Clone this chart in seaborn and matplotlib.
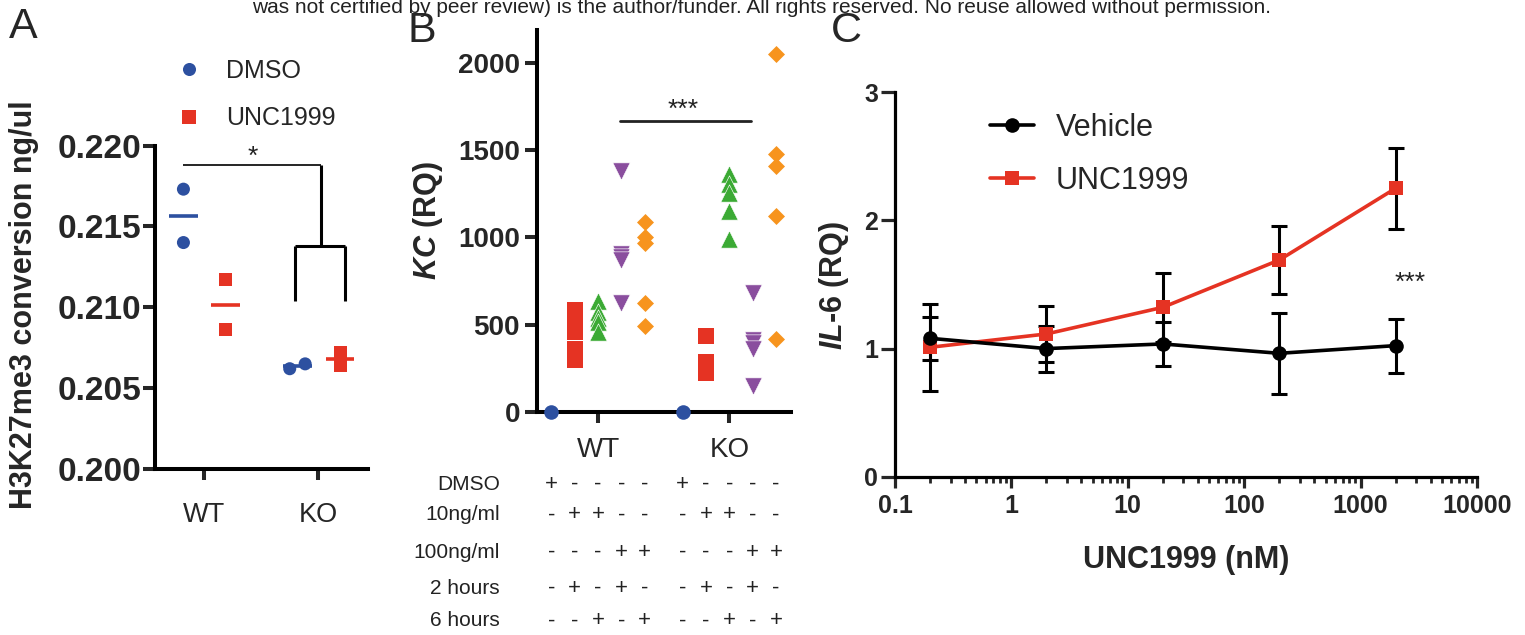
import numpy as np
import pandas as pd
import matplotlib
matplotlib.use("Agg")
import matplotlib.pyplot as plt
import matplotlib.transforms as mtransforms
from matplotlib.lines import Line2D
from matplotlib.ticker import FixedLocator, FuncFormatter, LogLocator, NullFormatter
import seaborn as sns

# ---------------- data ----------------
header_text = ("was not certified by peer review) is the author/funder. "
               "All rights reserved. No reuse allowed without permission.")

# Panel A
a_groups = ["WT", "KO"]
a_treatments = ["DMSO", "UNC1999"]
a_wt_dmso = [0.2173, 0.2140]
a_wt_unc = [0.2117, 0.2086]
a_ko_dmso = [0.2062, 0.2065]
a_ko_unc = [0.2072, 0.2064]
a_yticks = [0.200, 0.205, 0.210, 0.215, 0.220]
a_ylabel = "H3K27me3 conversion ng/ul"

# Panel B
b_groups = ["WT", "KO"]
b_conditions = ["DMSO", "10ng/ml 2h", "10ng/ml 6h", "100ng/ml 2h", "100ng/ml 6h"]
b_wt_dmso = [0]
b_wt_10_2h = [586, 524, 460, 362, 299]
b_wt_10_6h = [635, 570, 540, 515, 458]
b_wt_100_2h = [1383, 908, 890, 872, 624]
b_wt_100_6h = [1091, 1001, 967, 622, 492]
b_ko_dmso = [0]
b_ko_10_2h = [436, 432, 287, 255, 222]
b_ko_10_6h = [1365, 1305, 1255, 1150, 990]
b_ko_100_2h = [680, 413, 395, 360, 150]
b_ko_100_6h = [2052, 1480, 1411, 1125, 417]
b_yticks = [0, 500, 1000, 1500, 2000]
b_sig_y = 1668

table_rows = ["DMSO", "10ng/ml", "100ng/ml", "2 hours", "6 hours"]
table_signs = [
    ["+", "-", "-", "-", "-", "+", "-", "-", "-", "-"],
    ["-", "+", "+", "-", "-", "-", "+", "+", "-", "-"],
    ["-", "-", "-", "+", "+", "-", "-", "-", "+", "+"],
    ["-", "+", "-", "+", "-", "-", "+", "-", "+", "-"],
    ["-", "-", "+", "-", "+", "-", "-", "+", "-", "+"],
]

# Panel C
c_conc = [0.2, 2, 20, 200, 2000]
c_vehicle = [1.08, 1.00, 1.036, 0.963, 1.023]
c_vehicle_err = [0.17, 0.18, 0.172, 0.317, 0.211]
c_unc = [1.01, 1.114, 1.322, 1.691, 2.251]
c_unc_err = [0.34, 0.22, 0.27, 0.265, 0.315]
c_xticks = [0.1, 1, 10, 100, 1000, 10000]
c_yticks = [0, 1, 2, 3]

# ---------------- style ----------------
sns.set_style("ticks")
plt.rcParams["font.family"] = ["Liberation Sans", "DejaVu Sans"]
plt.rcParams["mathtext.fontset"] = "custom"
plt.rcParams["mathtext.it"] = "Liberation Sans:italic:bold"
plt.rcParams["mathtext.rm"] = "Liberation Sans:bold"
plt.rcParams["mathtext.bf"] = "Liberation Sans:bold"

BLUE = "#2D50A0"
RED = "#E53323"
GREEN = "#3BAA34"
PURPLE = "#8A4E9E"
ORANGE = "#F7941E"

W, H = 1525, 635
fig = plt.figure(figsize=(W / 100, H / 100), dpi=100)


def rect(l, t, r, b):
    return [l / W, 1 - b / H, (r - l) / W, (b - t) / H]


def fx(px):
    return px / W


def fy(py):
    return 1 - py / H


axA = fig.add_axes(rect(155, 145.5, 368.3, 469))
axB = fig.add_axes(rect(536.7, 30, 790.7, 411.7))
axC = fig.add_axes(rect(895, 92.3, 1477, 476.7))

for ax, lw in ((axA, 2.9), (axB, 2.9), (axC, 2.3)):
    for s in ("top", "right"):
        ax.spines[s].set_visible(False)
    for s in ("left", "bottom"):
        ax.spines[s].set_linewidth(lw)
        ax.spines[s].set_color("black")
        ax.spines[s].set_capstyle("projecting")
    ax.set_facecolor("none")

# ---------------- Panel A ----------------
a_vals = {("WT", "DMSO"): a_wt_dmso, ("WT", "UNC1999"): a_wt_unc,
          ("KO", "DMSO"): a_ko_dmso, ("KO", "UNC1999"): a_ko_unc}
a_offsets = {("WT", "DMSO"): [-0.18, -0.18], ("WT", "UNC1999"): [0.19, 0.19],
             ("KO", "DMSO"): [-0.25, -0.115], ("KO", "UNC1999"): [0.19, 0.19]}
rows = []
for gi, g in enumerate(a_groups):
    for t in a_treatments:
        for v, off in zip(a_vals[(g, t)], a_offsets[(g, t)]):
            rows.append({"group": g, "treatment": t, "value": v, "x": gi + off})
dfA = pd.DataFrame(rows)

a_pal = {"DMSO": BLUE, "UNC1999": RED}
a_mk = {"DMSO": "o", "UNC1999": "s"}
# mean lines
for (g, t), grp in dfA.groupby(["group", "treatment"]):
    xc = grp["x"].mean()
    axA.hlines(grp["value"].mean(), xc - 0.125, xc + 0.125, colors=a_pal[t], lw=2.6, zorder=2)
sns.scatterplot(data=dfA, x="x", y="value", hue="treatment", style="treatment",
                palette=a_pal, markers=a_mk, s=88, linewidth=0, ax=axA,
                legend=False, zorder=3, clip_on=False)
axA.set_xlim(-0.4287, 1.4374)
axA.set_ylim(0.200, 0.220)
axA.yaxis.set_major_locator(FixedLocator(a_yticks))
axA.yaxis.set_major_formatter(FuncFormatter(lambda v, p: f"{v:.3f}"))
axA.set_xticks([0, 1])
axA.set_xticklabels(a_groups)
axA.set_xlabel("")
axA.set_ylabel("")
axA.tick_params(axis="y", length=8.6, width=2.9, pad=1, labelsize=24)
axA.tick_params(axis="x", length=8, width=2.9, pad=15.5, labelsize=19.5)
for lab in axA.get_yticklabels():
    lab.set_fontweight("bold")

# bracket
bk = dict(color="black", clip_on=False, solid_capstyle="butt")
axA.plot([-0.18, 1.02], [0.2188, 0.2188], lw=1.2, **bk)
axA.plot([1.02, 1.02], [0.2188, 0.2138], lw=2.2, **bk)
axA.plot([0.80, 1.23], [0.2138, 0.2138], lw=2.2, **bk)
axA.plot([0.80, 0.80], [0.2138, 0.2104], lw=2.2, **bk)
axA.plot([1.23, 1.23], [0.2138, 0.2104], lw=2.2, **bk)
axA.text(0.43, 0.21885, "*", ha="center", va="baseline", fontsize=19, color="#222222")

a_handles = [Line2D([], [], ls="none", marker=a_mk[t], color=a_pal[t], markersize=9.4,
                    markeredgewidth=0) for t in a_treatments]
axA.legend(a_handles, a_treatments, loc="upper left", bbox_to_anchor=(fx(176.5), fy(59)),
           bbox_transform=fig.transFigure, frameon=False, fontsize=18, handlelength=1.0,
           handletextpad=1.0, labelspacing=0.93, borderpad=0, borderaxespad=0)

fig.text(fx(24), fy(305), a_ylabel, rotation=90, ha="center", va="center",
         fontsize=22, fontweight="bold")
fig.text(fx(23), fy(27), "A", ha="center", va="center", fontsize=31)

# ---------------- Panel B ----------------
b_vals = {
    "WT": [b_wt_dmso, b_wt_10_2h, b_wt_10_6h, b_wt_100_2h, b_wt_100_6h],
    "KO": [b_ko_dmso, b_ko_10_2h, b_ko_10_6h, b_ko_100_2h, b_ko_100_6h],
}
b_center = {"WT": 0.0, "KO": 5.63}
b_slot = [-2, -1, 0, 1, 2]
b_style = {
    "DMSO": dict(marker="o", color=BLUE, s=110, linewidth=0),
    "10ng/ml 2h": dict(marker="s", color=RED, s=117, linewidth=0),
    "10ng/ml 6h": dict(marker="^", color=GREEN, s=155, linewidth=0.45, edgecolor="white"),
    "100ng/ml 2h": dict(marker="v", color=PURPLE, s=155, linewidth=0.45, edgecolor="white"),
    "100ng/ml 6h": dict(marker="D", color=ORANGE, s=75, linewidth=0),
}
rows = []
for g in b_groups:
    for ci, c in enumerate(b_conditions):
        for v in b_vals[g][ci]:
            rows.append({"group": g, "condition": c, "value": v,
                         "x": b_center[g] + b_slot[ci]})
dfB = pd.DataFrame(rows)
for c in b_conditions:
    sub = dfB[dfB["condition"] == c]
    sns.scatterplot(data=sub, x="x", y="value", ax=axB, legend=False, zorder=3,
                    clip_on=False, **b_style[c])
axB.set_xlim(-2.63, 8.26)
axB.set_ylim(0, 2191)
axB.yaxis.set_major_locator(FixedLocator(b_yticks))
axB.set_xticks([b_center[g] for g in b_groups])
axB.set_xticklabels(b_groups)
axB.set_xlabel("")
axB.set_ylabel("")
axB.tick_params(axis="y", length=8.4, width=2.9, pad=3.6, labelsize=20)
axB.tick_params(axis="x", length=8, width=2.9, pad=10, labelsize=20)
for lab in axB.get_yticklabels():
    lab.set_fontweight("bold")
axB.plot([0.94, 6.55], [b_sig_y, b_sig_y], color="#222222", lw=2.0, clip_on=False)
axB.text(3.64, b_sig_y + 25, "***", ha="center", va="baseline", fontsize=19, color="#222222")
fig.text(fx(428), fy(220), r"$\mathit{KC}$ (RQ)", rotation=90, ha="center", va="center",
         fontsize=22, fontweight="bold")
fig.text(fx(422), fy(31), "B", ha="center", va="center", fontsize=31)

# table under panel B
blend = mtransforms.blended_transform_factory(axB.transData, fig.transFigure)
row_y = [484, 515, 552, 588, 621]
cols_x = [b_center[g] + s for g in b_groups for s in b_slot]
for ri, lab in enumerate(table_rows):
    fig.text(fx(500), fy(row_y[ri]), lab, ha="right", va="center", fontsize=15, color="#222222")
    for xi, sgn in zip(cols_x, table_signs[ri]):
        axB.text(xi, fy(row_y[ri]), sgn, transform=blend, ha="center", va="center",
                 fontsize=16, color="#222222", clip_on=False)

# ---------------- Panel C ----------------
axC.set_xscale("log")
axC.errorbar(c_conc, c_unc, yerr=c_unc_err, fmt="none", ecolor="black", elinewidth=2.2,
             capsize=6, capthick=2.2, zorder=2)
axC.errorbar(c_conc, c_vehicle, yerr=c_vehicle_err, fmt="none", ecolor="black",
             elinewidth=2.2, capsize=6, capthick=2.2, zorder=2)
sns.lineplot(x=c_conc, y=c_unc, ax=axC, color=RED, marker="s", markersize=10.5,
             markeredgewidth=0, lw=2.6, zorder=3)
sns.lineplot(x=c_conc, y=c_vehicle, ax=axC, color="black", marker="o", markersize=10.5,
             markeredgewidth=0, lw=2.6, zorder=4)
axC.set_xlim(0.1, 10000)
axC.set_ylim(0, 3)
axC.xaxis.set_major_locator(FixedLocator(c_xticks))
axC.xaxis.set_major_formatter(FuncFormatter(lambda v, p: f"{v:g}"))
axC.xaxis.set_minor_locator(LogLocator(base=10, subs=np.arange(2, 10), numticks=20))
axC.xaxis.set_minor_formatter(NullFormatter())
axC.yaxis.set_major_locator(FixedLocator(c_yticks))
axC.tick_params(axis="y", length=10, width=2.3, pad=2, labelsize=18)
axC.tick_params(axis="x", which="major", length=7.7, width=2.3, pad=4.5, labelsize=18)
axC.tick_params(axis="x", which="minor", length=4.3, width=2.0)
for lab in axC.get_xticklabels() + axC.get_yticklabels():
    lab.set_fontweight("bold")
axC.set_xlabel("")
axC.set_ylabel("")
axC.text(2655, 1.462, "***", ha="center", va="baseline", fontsize=19, color="#222222")

c_handles = [Line2D([], [], color="black", marker="o", markersize=10.5, lw=2.6, markeredgewidth=0),
             Line2D([], [], color=RED, marker="s", markersize=10.5, lw=2.6, markeredgewidth=0)]
axC.legend(c_handles, ["Vehicle", "UNC1999"], loc="upper left",
           bbox_to_anchor=(fx(990), fy(113)), bbox_transform=fig.transFigure,
           frameon=False, fontsize=22, handlelength=1.44, handletextpad=0.72,
           labelspacing=0.75, borderpad=0, borderaxespad=0)

fig.text(fx(1186), fy(560), "UNC1999 (nM)", ha="center", va="center", fontsize=22,
         fontweight="bold")
fig.text(fx(834), fy(285), r"$\mathit{IL}$-$\mathit{6}$ (RQ)", rotation=90, ha="center",
         va="center", fontsize=22, fontweight="bold")
fig.text(fx(846), fy(31), "C", ha="center", va="center", fontsize=31)

fig.text(fx(762), fy(13), header_text, ha="center", va="baseline", fontsize=15, color="#222222")

fig.savefig("out.png", dpi=100)
